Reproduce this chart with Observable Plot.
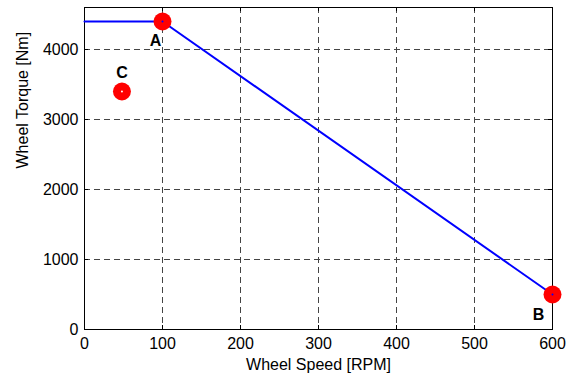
<!DOCTYPE html>
<html>
<head>
<meta charset="utf-8">
<script src="https://cdn.jsdelivr.net/npm/d3@7"></script>
<script src="https://cdn.jsdelivr.net/npm/@observablehq/plot@0.6"></script>
<style>
  html, body { margin: 0; padding: 0; background: #fff; }
  #chart svg { display: block; }
</style>
</head>
<body>
<div id="chart"></div>
<script>
// Torque-speed curve
const curveSpeed = [0, 100, 600];
const curveTorque = [4400, 4400, 500];

// Operating points
const pointNames = ["A", "B", "C"];
const pointSpeed = [100, 600, 48];
const pointTorque = [4400, 500, 3400];

// Ticks
const xTicks = [0, 100, 200, 300, 400, 500, 600];
const yTicks = [0, 1000, 2000, 3000, 4000];

const curve = curveSpeed.map((s, i) => ({speed: s, torque: curveTorque[i]}));
const points = pointNames.map((n, i) => ({name: n, speed: pointSpeed[i], torque: pointTorque[i]}));

const W = 575, H = 381;
const mL = 84, mR = 23, mT = 7, mB = 52;
const fw = W - mL - mR, fh = H - mT - mB;
const tickLen = 4;
const font = "'Liberation Sans', Arial, Helvetica, sans-serif";
const fs = 16;

const labelOffsets = {A: [-7, 19], B: [-14, 20], C: [0, -19]};

const chart = Plot.plot({
  width: W,
  height: H,
  marginLeft: mL,
  marginRight: mR,
  marginTop: mT,
  marginBottom: mB,
  style: {fontFamily: font, fontSize: fs + "px", background: "#fff", color: "#000"},
  x: {domain: [0, 600]},
  y: {domain: [0, 4600]},
  marks: [
    // dashed grid
    Plot.ruleX(xTicks.slice(1, -1), {x: d => d, stroke: "#444", strokeWidth: 1, strokeDasharray: "6,4"}),
    Plot.ruleY(yTicks.slice(1), {y: d => d, stroke: "#444", strokeWidth: 1, strokeDasharray: "6,4"}),
    // inward ticks (bottom, top, left, right)
    Plot.tickX(xTicks, {x: d => d, stroke: "#000", insetTop: fh - tickLen}),
    Plot.tickX(xTicks, {x: d => d, stroke: "#000", insetBottom: fh - tickLen}),
    Plot.tickY(yTicks, {y: d => d, stroke: "#000", insetRight: fw - tickLen}),
    Plot.tickY(yTicks, {y: d => d, stroke: "#000", insetLeft: fw - tickLen}),
    Plot.frame({stroke: "#000", strokeWidth: 1}),
    // axes
    Plot.axisX(xTicks, {tickSize: 0, tickPadding: 8, label: null, fontSize: fs, tickFormat: d3.format("d")}),
    Plot.axisY(yTicks, {tickSize: 0, tickPadding: 6, label: null, fontSize: fs, tickFormat: d3.format("d")}),
    Plot.text(["Wheel Speed [RPM]"], {frameAnchor: "bottom", dy: 35, lineAnchor: "middle", fontSize: fs}),
    Plot.text(["Wheel Torque [Nm]"], {frameAnchor: "left", dx: -62, rotate: -90, lineAnchor: "middle", fontSize: fs}),
    // curve
    Plot.line(curve, {x: "speed", y: "torque", stroke: "#0000ff", strokeWidth: 2}),
    // points
    Plot.dot(points, {x: "speed", y: "torque", r: 9, fill: "#ff0000", stroke: "none"}),
    Plot.dot(points, {x: "speed", y: "torque", r: 1, fill: d => d.name === "C" ? "#fff" : "#0000ff", stroke: "none"}),
    // point labels
    ...points.map(p => Plot.text([p], {
      x: "speed", y: "torque", text: "name",
      dx: labelOffsets[p.name][0], dy: labelOffsets[p.name][1],
      fontWeight: "bold", fontSize: fs, fill: "#000"
    }))
  ]
});

document.getElementById("chart").appendChild(chart);
</script>
</body>
</html>
